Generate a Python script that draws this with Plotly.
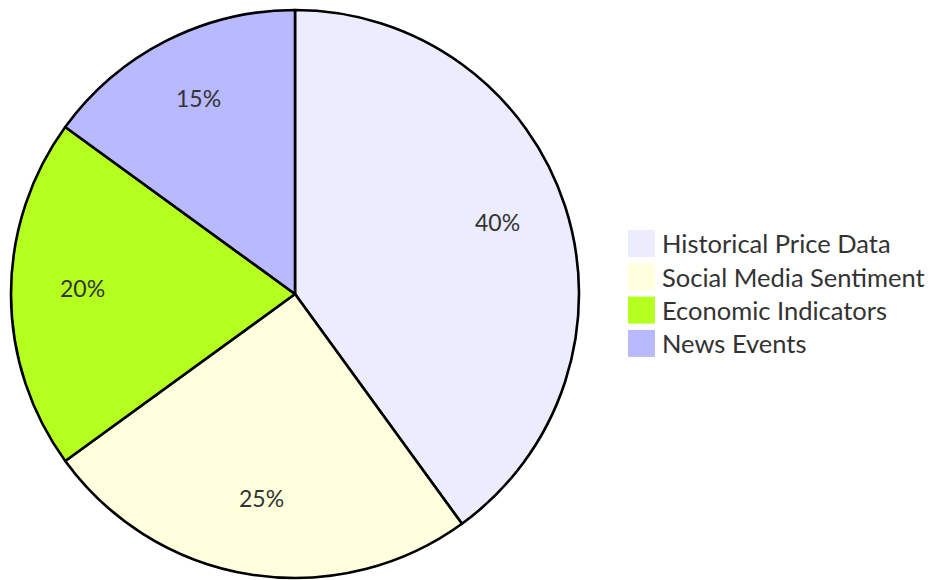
import math
import plotly.graph_objects as go

labels = ["Historical Price Data", "Social Media Sentiment", "Economic Indicators", "News Events"]
values = [40, 25, 20, 15]
colors = ["#ECECFF", "#FFFFDE", "#B5FF20", "#B9B9FF"]

OFF = 8  # page body margin
W, H = 936 - OFF, 580 - OFF
cx, cy, r = 295 - OFF, 294 - OFF, 284
FONT = "Lato"
FS_PIE = 23
FS_LEG = 25.5
TXT = "#333333"

fig = go.Figure(go.Pie(
    labels=labels, values=values, sort=False, direction="clockwise", rotation=0,
    marker=dict(colors=colors, line=dict(color="#000000", width=2.6)),
    textinfo="none", hoverinfo="label+percent", showlegend=False,
    domain=dict(x=[(cx - r) / W, (cx + r) / W], y=[max(0, (H - cy - r) / H), (H - cy + r) / H]),
))

total = sum(values)
ann = []
cum = 0
for v in values:
    mid = (cum + v / 2) / total * 2 * math.pi
    cum += v
    px = cx + 0.75 * r * math.sin(mid)
    py = cy - 0.75 * r * math.cos(mid)
    ann.append(dict(x=px / W, y=1 - py / H, xref="paper", yref="paper", showarrow=False,
                    text=f"{round(v / total * 100)}%", font=dict(family=FONT, size=FS_PIE, color=TXT),
                    xanchor="center", yanchor="middle", yshift=6))

shapes = []
lx, ly0, sq, step = 628 - OFF, 230 - OFF, 27, 33.3
for i, (lab, col) in enumerate(zip(labels, colors)):
    top = ly0 + i * step
    shapes.append(dict(type="rect", xref="paper", yref="paper",
                       x0=lx / W, x1=(lx + sq) / W, y0=1 - top / H, y1=1 - (top + sq) / H,
                       fillcolor=col, line=dict(width=0)))
    ann.append(dict(x=(lx + sq + 5) / W, y=1 - (top + sq / 2) / H, xref="paper", yref="paper",
                    showarrow=False, text=lab, font=dict(family=FONT, size=FS_LEG, color=TXT),
                    xanchor="left", yanchor="middle"))

fig.update_layout(width=W, height=H, margin=dict(l=0, r=0, t=0, b=0),
                  paper_bgcolor="white", plot_bgcolor="white",
                  annotations=ann, shapes=shapes)
fig.write_html("out.html")
